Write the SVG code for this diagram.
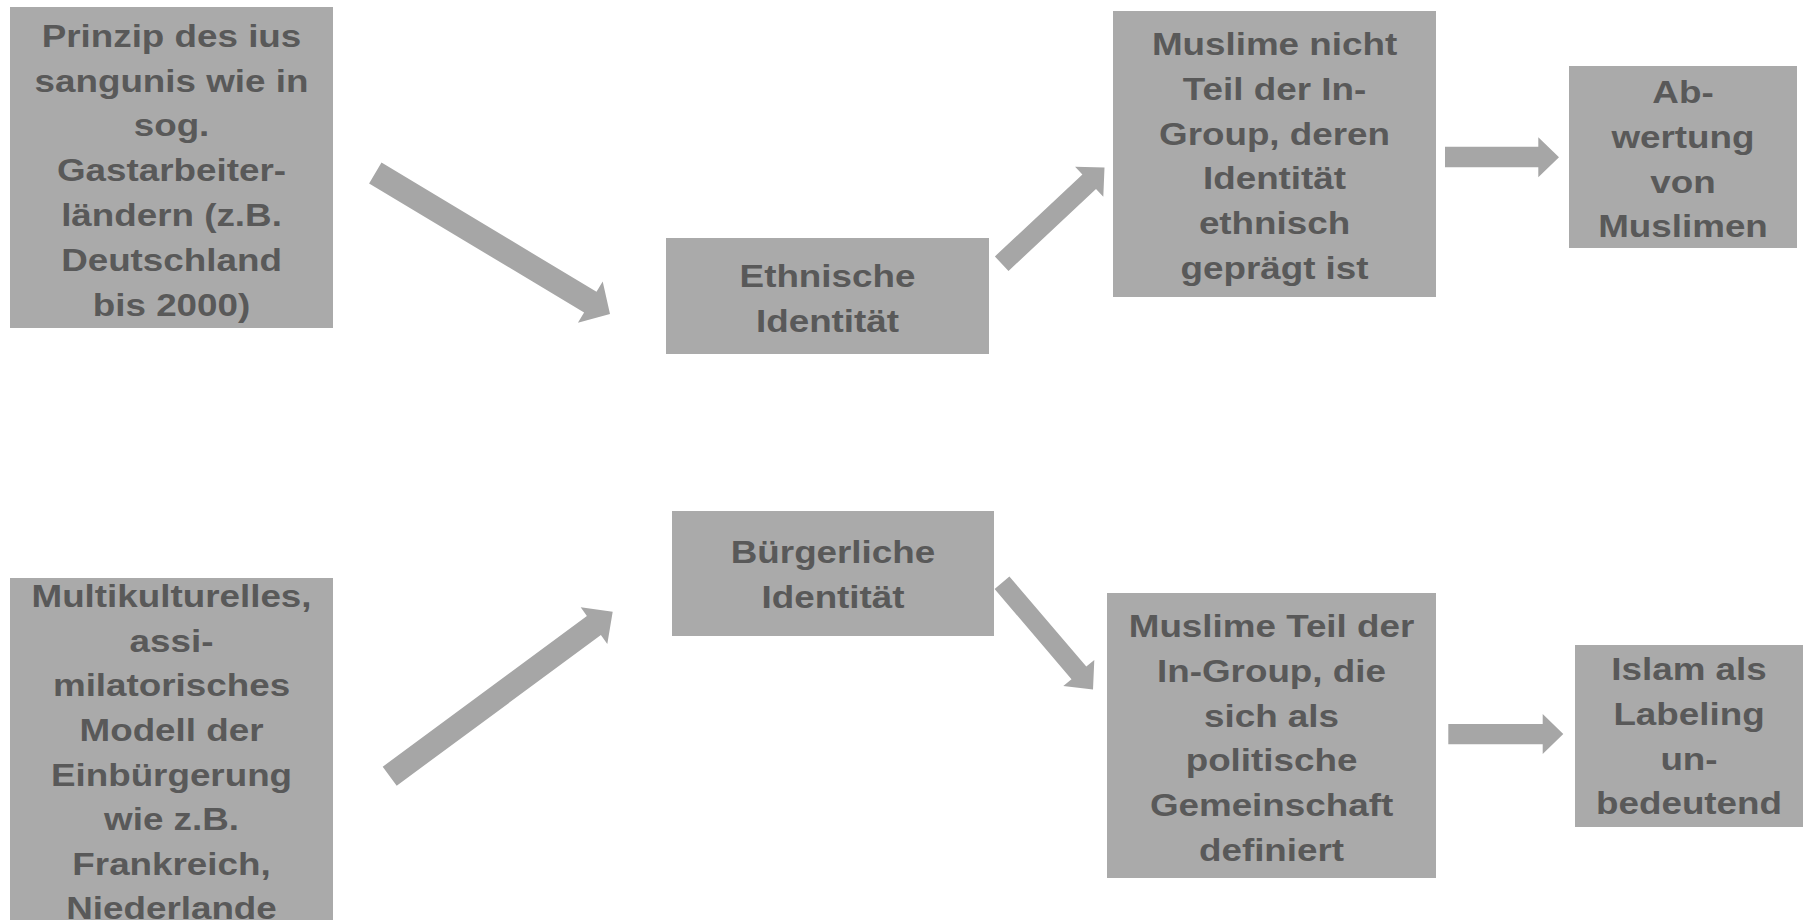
<svg xmlns="http://www.w3.org/2000/svg" width="1806" height="920" viewBox="0 0 1806 920">
  <style>
    .box { fill: #aaaaaa; }
    .arrow { fill: #a6a6a6; }
    .label { font-family: "Liberation Sans", Arial, sans-serif; font-weight: bold; font-size: 32px; fill: #595959; text-anchor: middle; }
  </style>
  <rect width="1806" height="920" fill="#ffffff"/>

  <!-- connectors: block arrows -->
  <g id="connectors">
    <polygon class="arrow" points="381.5,162.6 596.5,291.8 602.7,281.6 610,314 577.9,322.8 584.1,312.6 369.1,183.4"/>
    <polygon class="arrow" points="994.9,256.4 1082.4,174.5 1075.1,166.8 1104.5,167.5 1103.3,196.8 1096,189.1 1008.5,271"/>
    <polygon class="arrow" points="1445,146.7 1538.3,146.7 1538.3,137.3 1559,157.3 1538.3,177.3 1538.3,167.3 1445,167.3"/>
    <polygon class="arrow" points="382.7,766.7 586.9,616.1 580.7,607.3 612.7,611.7 607.3,644 600.9,635.1 396.7,785.7"/>
    <polygon class="arrow" points="1009.4,576.4 1086.3,666.6 1094.3,660 1093,689.5 1063.3,686 1071.5,679.2 994.6,589"/>
    <polygon class="arrow" points="1448.3,724 1542.7,724 1542.7,714 1563.3,734 1542.7,754 1542.7,744.3 1448.3,744.3"/>
  </g>

  <!-- labels are widened horizontally around each box's centre line -->
  <g id="node-ius-sanguinis">
    <rect class="box" x="10" y="7" width="323" height="321"/>
    <g transform="translate(171.5 0) scale(1.15 1)">
      <text class="label" x="0" y="46.7">Prinzip des ius</text>
      <text class="label" x="0" y="91.6">sangunis wie in</text>
      <text class="label" x="0" y="136.5">sog.</text>
      <text class="label" x="0" y="181.4">Gastarbeiter-</text>
      <text class="label" x="0" y="226.3">ländern (z.B.</text>
      <text class="label" x="0" y="271.2">Deutschland</text>
      <text class="label" x="0" y="316.1">bis 2000)</text>
    </g>
  </g>

  <g id="node-multikulturell">
    <rect class="box" x="10" y="578" width="323" height="350"/>
    <g transform="translate(171.5 0) scale(1.15 1)">
      <text class="label" x="0" y="607.3">Multikulturelles,</text>
      <text class="label" x="0" y="651.9">assi-</text>
      <text class="label" x="0" y="696.5">milatorisches</text>
      <text class="label" x="0" y="741.1">Modell der</text>
      <text class="label" x="0" y="785.7">Einbürgerung</text>
      <text class="label" x="0" y="830.3">wie z.B.</text>
      <text class="label" x="0" y="874.9">Frankreich,</text>
      <text class="label" x="0" y="919.5">Niederlande</text>
    </g>
  </g>

  <g id="node-ethnische-identitaet">
    <rect class="box" x="666" y="238" width="323" height="116"/>
    <g transform="translate(827.5 0) scale(1.15 1)">
      <text class="label" x="0" y="287.3">Ethnische</text>
      <text class="label" x="0" y="332">Identität</text>
    </g>
  </g>

  <g id="node-buergerliche-identitaet">
    <rect class="box" x="672" y="511" width="322" height="125"/>
    <g transform="translate(833 0) scale(1.15 1)">
      <text class="label" x="0" y="563">Bürgerliche</text>
      <text class="label" x="0" y="608">Identität</text>
    </g>
  </g>

  <g id="node-nicht-in-group">
    <rect class="box" x="1113" y="11" width="323" height="286"/>
    <g transform="translate(1274.5 0) scale(1.15 1)">
      <text class="label" x="0" y="55">Muslime nicht</text>
      <text class="label" x="0" y="99.8">Teil der In-</text>
      <text class="label" x="0" y="144.6">Group, deren</text>
      <text class="label" x="0" y="189.4">Identität</text>
      <text class="label" x="0" y="234.2">ethnisch</text>
      <text class="label" x="0" y="279">geprägt ist</text>
    </g>
  </g>

  <g id="node-teil-in-group">
    <rect class="box" x="1107" y="593" width="329" height="285"/>
    <g transform="translate(1271.5 0) scale(1.15 1)">
      <text class="label" x="0" y="637">Muslime Teil der</text>
      <text class="label" x="0" y="681.8">In-Group, die</text>
      <text class="label" x="0" y="726.6">sich als</text>
      <text class="label" x="0" y="771.4">politische</text>
      <text class="label" x="0" y="816.2">Gemeinschaft</text>
      <text class="label" x="0" y="861">definiert</text>
    </g>
  </g>

  <g id="node-abwertung">
    <rect class="box" x="1569" y="66" width="228" height="182"/>
    <g transform="translate(1683 0) scale(1.15 1)">
      <text class="label" x="0" y="103">Ab-</text>
      <text class="label" x="0" y="147.8">wertung</text>
      <text class="label" x="0" y="192.6">von</text>
      <text class="label" x="0" y="237.4">Muslimen</text>
    </g>
  </g>

  <g id="node-labeling">
    <rect class="box" x="1575" y="645" width="228" height="182"/>
    <g transform="translate(1689 0) scale(1.15 1)">
      <text class="label" x="0" y="680">Islam als</text>
      <text class="label" x="0" y="724.8">Labeling</text>
      <text class="label" x="0" y="769.6">un-</text>
      <text class="label" x="0" y="814.4">bedeutend</text>
    </g>
  </g>
</svg>
